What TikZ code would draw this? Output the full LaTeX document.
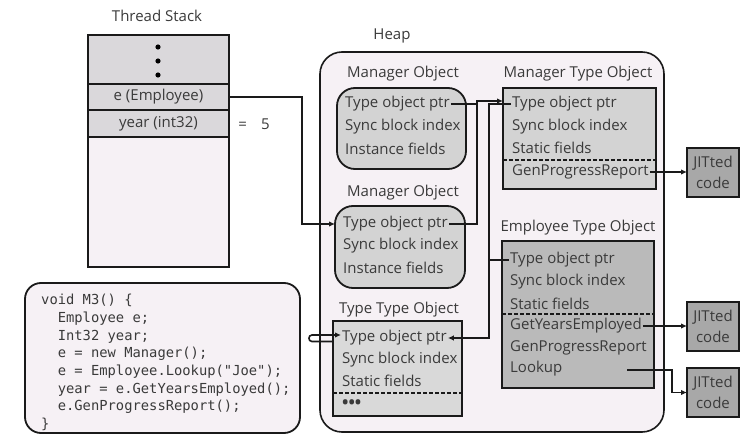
\documentclass[tikz,border=0pt]{standalone}
\usepackage{fontspec}
\setmainfont{Open Sans}
\setmonofont{DejaVu Sans Mono}
\usetikzlibrary{arrows.meta}
\definecolor{pinkbg}{HTML}{F6F1F5}
\definecolor{stackgray}{HTML}{DAD8DB}
\definecolor{objgray}{HTML}{D3D3D3}
\definecolor{empgray}{HTML}{BABABA}
\definecolor{ttgray}{HTML}{D9D9D9}
\definecolor{jitgray}{HTML}{A8A8A8}
\definecolor{txtgray}{HTML}{3A3A3A}
\definecolor{linecol}{HTML}{1A1A1A}
\tikzset{
  box/.style={draw=linecol, line width=1.8pt, inner sep=0pt, outer sep=0pt, anchor=north west},
  rbox/.style={box, rounded corners=18pt},
  txt/.style={font=\fontsize{15}{17}\selectfont, text=txtgray, inner sep=1pt, anchor=west},
  ctxt/.style={font=\fontsize{15}{17}\selectfont, text=txtgray, inner sep=1pt},
  title/.style={font=\fontsize{15}{17}\selectfont, text=txtgray, inner sep=1pt},
  jit/.style={box, fill=jitgray, minimum width=52pt, minimum height=49pt},
  jtxt/.style={ctxt, align=center, font=\fontsize{15}{21}\selectfont},
  arr/.style={draw=linecol, line width=1.6pt, -{Latex[length=6pt,width=5.5pt]}},
  conn/.style={draw=linecol, line width=1.6pt},
  dsh/.style={draw=linecol, line width=1.5pt, dash pattern=on 3.5pt off 2.5pt},
  codetxt/.style={font=\fontsize{13.8}{17.7}\selectfont\ttfamily, text=txtgray, align=left, inner sep=0pt, anchor=north west}
}
\begin{document}
\begin{tikzpicture}[x=1pt,y=-1pt]
\useasboundingbox (0,0) rectangle (748,439);
\fill[white] (0,0) rectangle (748,439);

% ---------- Thread stack ----------
\node[title] (tstitle) at (157,16) {Thread Stack};
\node[box, fill=stackgray, minimum width=141pt, minimum height=49pt] (sdots) at (88,35) {};
\fill[black] (158,47) circle (2.6pt) (158,61) circle (2.6pt) (158,75) circle (2.6pt);
\node[box, fill=stackgray, minimum width=141pt, minimum height=26pt] (se) at (88,84) {};
\node[ctxt] (setxt) at (se.center) {e (Employee)};
\node[box, fill=stackgray, minimum width=141pt, minimum height=27pt] (sy) at (88,110) {};
\node[ctxt] (sytxt) at (sy.center) {year (int32)};
\node[box, fill=pinkbg, minimum width=141pt, minimum height=130pt] (sbot) at (88,137) {};
\node[ctxt] (eq) at (254,124) {=\hspace{14pt}5};

% ---------- Code ----------
\node[rbox, rounded corners=16pt, fill=pinkbg, minimum width=275pt, minimum height=150pt] (codebox) at (25,283) {};
\node[codetxt] (code) at (41,294) {void M3() \{\\
\ \ Employee e;\\
\ \ Int32 year;\\
\ \ e = new Manager();\\
\ \ e = Employee.Lookup("Joe");\\
\ \ year = e.GetYearsEmployed();\\
\ \ e.GenProgressReport();\\
\}};

% ---------- Heap ----------
\node[title] (heaptitle) at (392,36) {Heap};
\node[rbox, rounded corners=22pt, line width=1.6pt, fill=pinkbg, minimum width=344pt, minimum height=380pt] (heap) at (320,52) {};

% Manager object 1
\node[title] (mo1t) at (403,74) {Manager Object};
\node[rbox, fill=objgray, minimum width=129pt, minimum height=81pt] (mo1) at (337,88) {};
\node[txt] (mo1a) at (344,104) {Type object ptr};
\node[txt] (mo1b) at (344,127) {Sync block index};
\node[txt] (mo1c) at (344,149) {Instance fields};

% Manager object 2
\node[title] (mo2t) at (403,193) {Manager Object};
\node[rbox, fill=objgray, minimum width=130pt, minimum height=82pt] (mo2) at (335,206) {};
\node[txt] (mo2a) at (342,224) {Type object ptr};
\node[txt] (mo2b) at (342,246) {Sync block index};
\node[txt] (mo2c) at (342,268) {Instance fields};

% Type Type object
\node[title] (ttot) at (399,310) {Type Type Object};
\node[box, fill=ttgray, minimum width=129pt, minimum height=95pt] (tto) at (333,321) {};
\node[txt] (ttoa) at (341,338) {Type object ptr};
\node[txt] (ttob) at (341,360) {Sync block index};
\node[txt] (ttoc) at (341,381) {Static fields};
\draw[dsh] (tto.west |- 0,393) -- (tto.east |- 0,393);
\node[txt, font=\fontsize{17}{17}\bfseries] (ttod) at (341,404) {•••};

% Manager type object
\node[title] (mtot) at (578,74) {Manager Type Object};
\node[box, fill=objgray, minimum width=153pt, minimum height=101pt] (mto) at (503,88) {};
\node[txt] (mtoa) at (511,104) {Type object ptr};
\node[txt] (mtob) at (511,127) {Sync block index};
\node[txt] (mtoc) at (511,148) {Static fields};
\draw[dsh] (mto.west |- 0,160) -- (mto.east |- 0,160);
\node[txt] (mtod) at (511,172) {GenProgressReport};

% Employee type object
\node[title] (etot) at (578,228) {Employee Type Object};
\node[box, fill=empgray, minimum width=152pt, minimum height=147pt] (eto) at (502,241) {};
\node[txt] (etoa) at (509,260) {Type object ptr};
\node[txt] (etob) at (509,282) {Sync block index};
\node[txt] (etoc) at (509,304) {Static fields};
\draw[dsh] (eto.west |- 0,314) -- (eto.east |- 0,314);
\node[txt] (etod) at (509,326) {GetYearsEmployed};
\node[txt] (etoe) at (509,348) {GenProgressReport};
\node[txt] (etof) at (509,369) {Lookup};

% JITted code boxes
\node[jit] (jit1) at (687,148) {};
\node[jtxt] (jit1t) at (jit1.center) {JITted\\code};
\node[jit] (jit2) at (687,302) {};
\node[jtxt] (jit2t) at (jit2.center) {JITted\\code};
\node[jit] (jit3) at (687,368) {};
\node[jtxt] (jit3t) at (jit3.center) {JITted\\code};

% ---------- Connectors ----------
\coordinate (ej) at (302,224);
\draw[arr] (se.east) -| (ej) -- (mo2.west |- ej);

\coordinate (mj) at (477,101);
\draw[arr] (mo1a.east) -| (mj) -- (mto.west |- mj);
\draw[conn] (mo2a.east) -| (mj);

\coordinate (tj) at (489,338);
\draw[arr] (mtoa.west) -| (tj) -- (ttoa.east);
\draw[conn] (etoa.west) -- (etoa.west -| tj);

\coordinate (lp1) at (312,341.5);
\coordinate (lp2) at (312,335);
\draw[arr] (tto.west |- lp1) -- (lp1) to[out=180,in=180,looseness=1.6] (lp2) -- (ttoa.west |- lp2);

\draw[arr] (mtod.east) -- (jit1.west |- mtod.east);
\draw[arr] (etod.east) -- (jit2.west |- etod.east);
\coordinate (lk) at (627,370);
\coordinate (lkj) at (672,370);
\draw[arr] (lk) -- (lkj) |- (jit3.west);
\end{tikzpicture}
\end{document}
